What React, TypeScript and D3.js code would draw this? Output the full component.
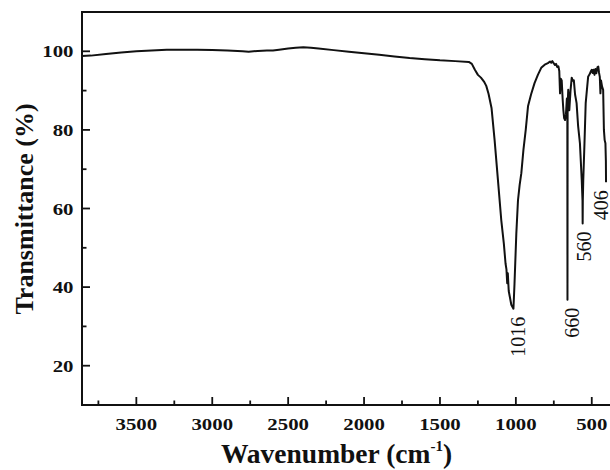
import React from "react";
import * as d3 from "d3";

// FTIR spectrum: wavenumber (cm^-1) and transmittance (%)
const wavenumbers = [
  3858, 3800, 3700, 3600, 3500, 3400, 3300, 3200, 3100, 3000, 2900, 2800, 2760,
  2700, 2640, 2600, 2560, 2500, 2450, 2400, 2350, 2300, 2200, 2100, 2000, 1900,
  1800, 1700, 1600, 1500, 1400, 1310, 1290, 1270, 1250, 1230, 1210, 1195, 1180,
  1160, 1140, 1118, 1096, 1079, 1068, 1062, 1057, 1053, 1047, 1030, 1016, 1009,
  997, 986, 975, 964, 950, 935, 920, 900, 877, 855, 833, 810, 789, 775, 767, 760,
  750, 742, 735, 728, 720, 714, 709, 704, 698, 692, 687, 682, 676, 670, 664, 661,
  660, 659, 655, 648, 640, 632, 625, 618, 610, 600, 590, 578, 566, 561, 560, 559,
  556, 548, 540, 532, 524, 517, 511, 505, 500, 494, 489, 482, 476, 470, 462, 457,
  452, 447, 443, 439, 432, 425, 420, 415, 410, 407, 406,
];
const transmittance = [
  98.8, 98.9, 99.3, 99.7, 100.0, 100.2, 100.4, 100.4, 100.4, 100.3, 100.2, 100.0,
  99.9, 100.1, 100.2, 100.2, 100.4, 100.7, 100.9, 101.0, 100.9, 100.7, 100.3,
  99.9, 99.5, 99.1, 98.7, 98.3, 98.0, 97.7, 97.5, 97.3, 96.8, 95.3, 94.0, 93.3,
  92.3, 91.2, 89.2, 85.5, 77.4, 67.2, 57.0, 51.0, 46.0, 44.5, 41.0, 43.5, 39.0,
  35.5, 34.5, 40.8, 53.6, 62.1, 66.0, 69.0, 75.0, 80.0, 86.0, 89.0, 91.9, 94.0,
  95.8, 96.6, 97.0, 97.4, 97.1, 97.5, 96.9, 96.5, 96.8, 96.0, 96.2, 95.0, 89.3,
  93.0, 92.6, 88.0, 85.0, 83.0, 82.5, 84.0, 88.0, 86.0, 36.8, 86.0, 90.2, 85.0,
  90.0, 93.3, 92.5, 92.6, 89.0, 86.8, 81.0, 76.6, 67.2, 62.0, 56.2, 62.0, 67.2,
  76.6, 86.8, 90.2, 93.5, 94.0, 94.4, 95.0, 95.3, 94.5, 95.3, 94.0, 95.5, 94.4,
  96.0, 96.1, 94.5, 93.5, 89.3, 92.6, 91.0, 90.2, 80.0, 77.4, 76.6, 72.0, 66.7,
];

// Labelled absorption bands
const peakLabels = ["1016", "660", "560", "406"];
const peakWavenumbers = [1016, 660, 560, 406];
const peakValues = [34.5, 36.8, 56.2, 66.7];
// horizontal nudge of each band label relative to its band (px)
const peakLabelShift = [4.7, 4.2, 1, -5.5];

const xMajorTicks = [3500, 3000, 2500, 2000, 1500, 1000, 500];
const xMinorTicks = [3750, 3250, 2750, 2250, 1750, 1250, 750];
const yMajorTicks = [20, 40, 60, 80, 100];
const yMinorTicks = [30, 50, 70, 90];

const W = 610;
const H = 470;
const left = 82;
const right = 611.5;
const top = 12;
const bottom = 405;

const serif = "'Liberation Serif', 'Times New Roman', Times, serif";
const ink = "#111";

export default function App() {
  const x = d3.scaleLinear().domain([3858, 370]).range([left, right]);
  const y = d3.scaleLinear().domain([10, 110]).range([bottom, top]);

  const points = wavenumbers.map((w, i) => [w, transmittance[i]] as [number, number]);
  const line = d3
    .line<[number, number]>()
    .x((d) => x(d[0]))
    .y((d) => y(d[1]));

  return (
    <svg
      width={W}
      height={H}
      viewBox={`0 0 ${W} ${H}`}
      style={{ position: "absolute", left: 0, top: 0, background: "#fff" }}
    >
      <rect x={0} y={0} width={W} height={H} fill="#fff" />

      {/* spectrum */}
      <path d={line(points) ?? ""} fill="none" stroke={ink} strokeWidth={2} strokeLinejoin="round" />

      {/* frame */}
      <rect
        x={left}
        y={top}
        width={right - left}
        height={bottom - top}
        fill="none"
        stroke={ink}
        strokeWidth={2}
      />

      {/* x ticks (inward) */}
      {xMajorTicks.map((t) => (
        <line key={"xM" + t} x1={x(t)} x2={x(t)} y1={bottom} y2={bottom - 8} stroke={ink} strokeWidth={1.8} />
      ))}
      {xMinorTicks.map((t) => (
        <line key={"xm" + t} x1={x(t)} x2={x(t)} y1={bottom} y2={bottom - 4.5} stroke={ink} strokeWidth={1.8} />
      ))}
      {xMajorTicks.map((t) => (
        <text
          key={"xl" + t}
          transform={`translate(${x(t)},430) scale(1.19,1)`}
          textAnchor="middle"
          fontFamily={serif}
          fontWeight="bold"
          fontSize={17.5}
          fill={ink}
        >
          {t}
        </text>
      ))}

      {/* y ticks (inward) */}
      {yMajorTicks.map((t) => (
        <line key={"yM" + t} x1={left} x2={left + 8} y1={y(t)} y2={y(t)} stroke={ink} strokeWidth={1.8} />
      ))}
      {yMinorTicks.map((t) => (
        <line key={"ym" + t} x1={left} x2={left + 4.5} y1={y(t)} y2={y(t)} stroke={ink} strokeWidth={1.8} />
      ))}
      {yMajorTicks.map((t) => (
        <text
          key={"yl" + t}
          transform={`translate(73.5,${y(t) + 6}) scale(1.19,1)`}
          textAnchor="end"
          fontFamily={serif}
          fontWeight="bold"
          fontSize={17.5}
          fill={ink}
        >
          {t}
        </text>
      ))}

      {/* band annotations, read bottom to top below each band */}
      {peakLabels.map((lab, i) => {
        const px = x(peakWavenumbers[i]) + peakLabelShift[i];
        const py = y(peakValues[i]) + 8;
        return (
          <text
            key={"pk" + lab}
            transform={`translate(${px},${py}) rotate(-90)`}
            textAnchor="end"
            dy="0.35em"
            fontFamily={serif}
            fontSize={20}
            fill={ink}
          >
            {lab}
          </text>
        );
      })}

      {/* axis titles */}
      <text
        x={336.5}
        y={463}
        textAnchor="middle"
        fontFamily={serif}
        fontWeight="bold"
        fontSize={27.5}
        fill={ink}
      >
        Wavenumber (cm
        <tspan fontSize={15} dy={-12}>-1</tspan>
        <tspan dy={12}>)</tspan>
      </text>
      <text
        transform="translate(33,209) rotate(-90)"
        textAnchor="middle"
        fontFamily={serif}
        fontWeight="bold"
        fontSize={26}
        fill={ink}
      >
        Transmittance (%)
      </text>
    </svg>
  );
}
